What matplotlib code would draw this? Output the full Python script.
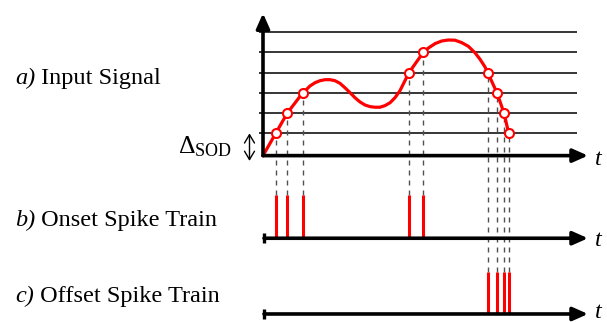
import matplotlib
matplotlib.use("Agg")
import matplotlib.pyplot as plt

plt.rcParams['mathtext.fontset'] = 'custom'
plt.rcParams['mathtext.rm'] = 'Liberation Serif'
plt.rcParams['mathtext.it'] = 'Liberation Serif:italic'
plt.rcParams['font.family'] = ['Liberation Serif', 'DejaVu Serif']

# ---- data (time units, amplitude in units of Delta_SOD) ----
signal_t = [0.0, 1.27, 2.43, 3.97, 4.37, 4.7, 5.2, 5.7, 6.2, 6.7, 7.2, 7.7,
            8.2, 8.7, 9.2, 9.7, 10.2, 10.7, 11.2, 11.7, 12.2, 12.7, 13.2,
            13.7, 14.6, 16.03, 16.53, 17.2, 17.87, 18.53, 19.2, 19.87, 20.53,
            21.2, 21.7, 22.2, 22.47, 23.4, 24.1, 24.57]
signal_v = [-0.1, 1.0, 2.0, 3.0, 3.18, 3.34, 3.50, 3.60, 3.65, 3.65, 3.60, 3.47,
            3.25, 3.01, 2.76, 2.55, 2.40, 2.32, 2.29, 2.29, 2.37, 2.51, 2.76,
            3.11, 4.0, 5.0, 5.21, 5.43, 5.56, 5.61, 5.60, 5.48, 5.30,
            4.98, 4.66, 4.28, 4.0, 3.0, 2.0, 1.0]
levels = [1, 2, 3, 4, 5, 6]
onset_t = [1.27, 2.43, 3.97, 14.6, 16.03]
onset_level = [1, 2, 3, 4, 5]
offset_t = [22.47, 23.4, 24.1, 24.57]
offset_level = [4, 3, 2, 1]
label_tags = ['a)', 'b)', 'c)']
label_names = [' Input Signal', ' Onset Spike Train', ' Offset Spike Train']

# ---- layout ----
BASE_A = -0.1
BASE_B, TOP_B = -4.18, -2.04
BASE_C, TOP_C = -7.92, -5.83
T_END = 32.5
Y_TOP = 6.93
RED = '#ff0000'
FS = 17.5

fig = plt.figure(figsize=(6.07, 3.22), dpi=100)
ax = fig.add_axes([0, 0, 1, 1])
ax.set_xlim(-26.3, 34.4)
ax.set_ylim(-8.316, 7.585)
ax.axis('off')

# level lines
ax.hlines(levels, -0.4, 31.4, color='black', lw=1.1, zorder=1)

# dashed projection lines
ax.vlines(onset_t, TOP_B, onset_level, color='#505050', lw=1.0,
          linestyles=(0, (3.6, 3.6)), zorder=1)
ax.vlines(offset_t, TOP_C, offset_level, color='#505050', lw=1.0,
          linestyles=(0, (3.6, 3.6)), zorder=1)

# signal
ax.plot(signal_t, signal_v, color=RED, lw=2.3, solid_capstyle='round',
        solid_joinstyle='round', zorder=3)
ax.plot(onset_t + offset_t, onset_level + offset_level, 'o', ms=6.5,
        mfc='white', mec=RED, mew=1.5, zorder=4)

# spikes
ax.vlines(onset_t, BASE_B, TOP_B, color=RED, lw=2.2, zorder=2)
ax.vlines(offset_t, BASE_C, TOP_C, color=RED, lw=2.2, zorder=2)

arrow = dict(arrowstyle='-|>,head_length=0.45,head_width=0.2', lw=2.6,
             color='black', shrinkA=0, shrinkB=0, mutation_scale=20)
# axes of panel a
ax.annotate('', xy=(0, Y_TOP), xytext=(0, BASE_A), arrowprops=arrow, zorder=5)
ax.annotate('', xy=(T_END, BASE_A), xytext=(0, BASE_A), arrowprops=arrow, zorder=5)
# spike train axes
for base in (BASE_B, BASE_C):
    ax.annotate('', xy=(T_END, base), xytext=(0.1, base), arrowprops=arrow, zorder=5)
    ax.plot([0.1], [base], marker='|', ms=7, mew=2.4, color='black', zorder=5)

# t labels
for yl in (-0.56, -4.56, -8.12):
    ax.text(33.1, yl, r'$t$', fontsize=FS, ha='left', va='baseline')

# Delta_SOD
ax.annotate('', xy=(-1.35, 1.0), xytext=(-1.35, -0.36),
            arrowprops=dict(arrowstyle='<->,head_length=0.5,head_width=0.3',
                            lw=1.0, color='black',
                            shrinkA=0, shrinkB=0, mutation_scale=12))
ax.text(-3.1, 0.03, r'$\Delta_{\mathrm{SOD}}$', fontsize=FS + 1,
        ha='right', va='baseline')

# panel labels
for tag, name, yl in zip(label_tags, label_names, (3.44, -3.58, -7.31)):
    t1 = ax.text(-24.8, yl, tag, fontsize=FS, style='italic',
                 ha='left', va='baseline')
    ax.annotate(name, xy=(1, 0), xycoords=t1, fontsize=FS,
                ha='left', va='bottom')

fig.savefig('out.png', dpi=100)
